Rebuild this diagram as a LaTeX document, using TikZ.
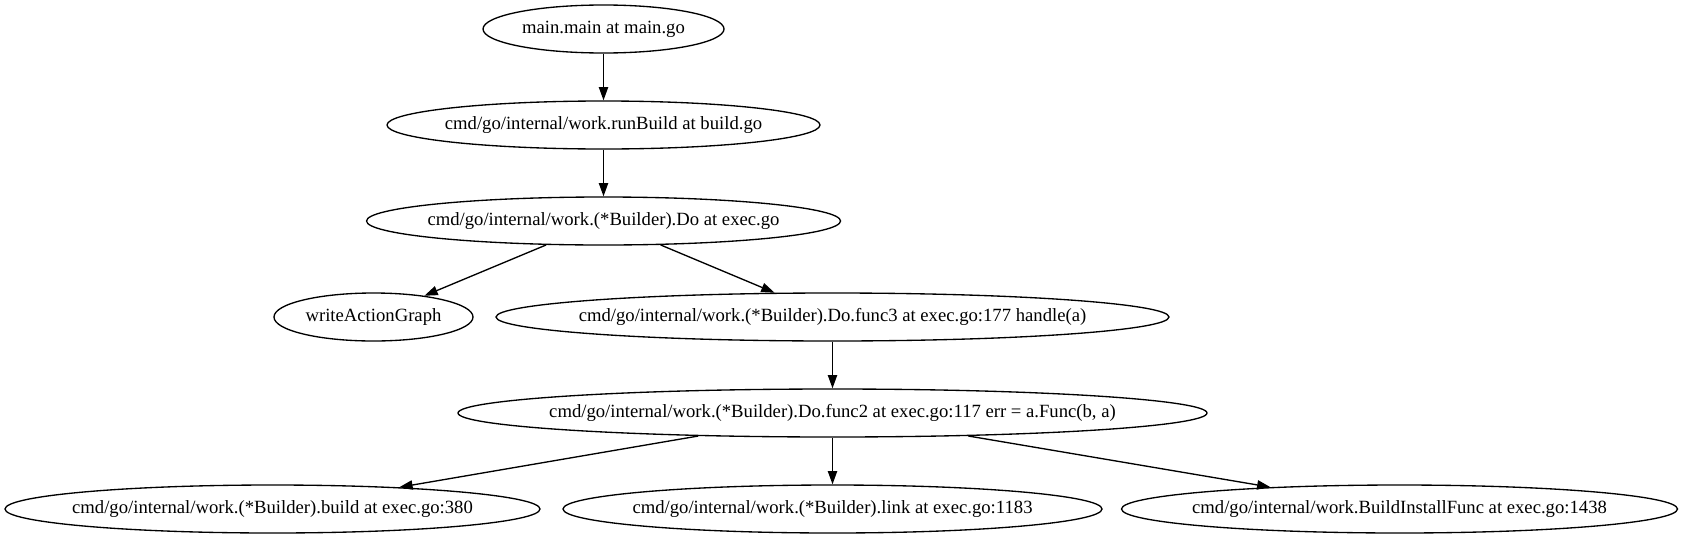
\documentclass[tikz,border=0pt]{standalone}
\usepackage{fontspec}
\setmainfont{Liberation Serif}
\usetikzlibrary{shapes.geometric,arrows.meta}
\newcommand{\gvt}[1]{\makebox[0pt]{#1}}
\begin{document}
\begin{tikzpicture}[x=0.75pt,y=-0.75pt,
  gv/.style={draw, ellipse, line width=1pt, inner sep=0pt, minimum height=36pt,
    font=\fontsize{14}{16}\selectfont},
  gvedge/.style={draw, line width=1pt, -{Triangle[length=10pt,width=7pt]}}]
\useasboundingbox (0,0) rectangle (1683,539);
\node[gv, minimum width=180.75pt] (main) at (603.5,29) {\gvt{main.main at main.go}};
\node[gv, minimum width=324.75pt] (runBuild) at (603.5,125) {\gvt{cmd/go/internal/work.runBuild at build.go}};
\node[gv, minimum width=355.5pt] (Do) at (603.5,221) {\gvt{cmd/go/internal/work.(*Builder).Do at exec.go}};
\node[gv, minimum width=149.25pt] (wAG) at (373.5,317) {\gvt{writeActionGraph}};
\node[gv, minimum width=504.75pt] (func3) at (832.5,317) {\gvt{cmd/go/internal/work.(*Builder).Do.func3 at exec.go:177 handle(a)}};
\node[gv, minimum width=561.75pt] (func2) at (832.5,413) {\gvt{cmd/go/internal/work.(*Builder).Do.func2 at exec.go:117 err = a.Func(b, a)}};
\node[gv, minimum width=401.25pt] (build) at (272.5,509) {\gvt{cmd/go/internal/work.(*Builder).build at exec.go:380}};
\node[gv, minimum width=404.25pt] (link) at (832.5,509) {\gvt{cmd/go/internal/work.(*Builder).link at exec.go:1183}};
\node[gv, minimum width=417pt] (bif) at (1399.5,509) {\gvt{cmd/go/internal/work.BuildInstallFunc at exec.go:1438}};
\draw[gvedge] (main) -- (runBuild);
\draw[gvedge] (runBuild) -- (Do);
\draw[gvedge] (Do) -- (wAG);
\draw[gvedge] (Do) -- (func3);
\draw[gvedge] (func3) -- (func2);
\draw[gvedge] (func2) -- (build);
\draw[gvedge] (func2) -- (link);
\draw[gvedge] (func2) -- (bif);
\end{tikzpicture}
\end{document}
